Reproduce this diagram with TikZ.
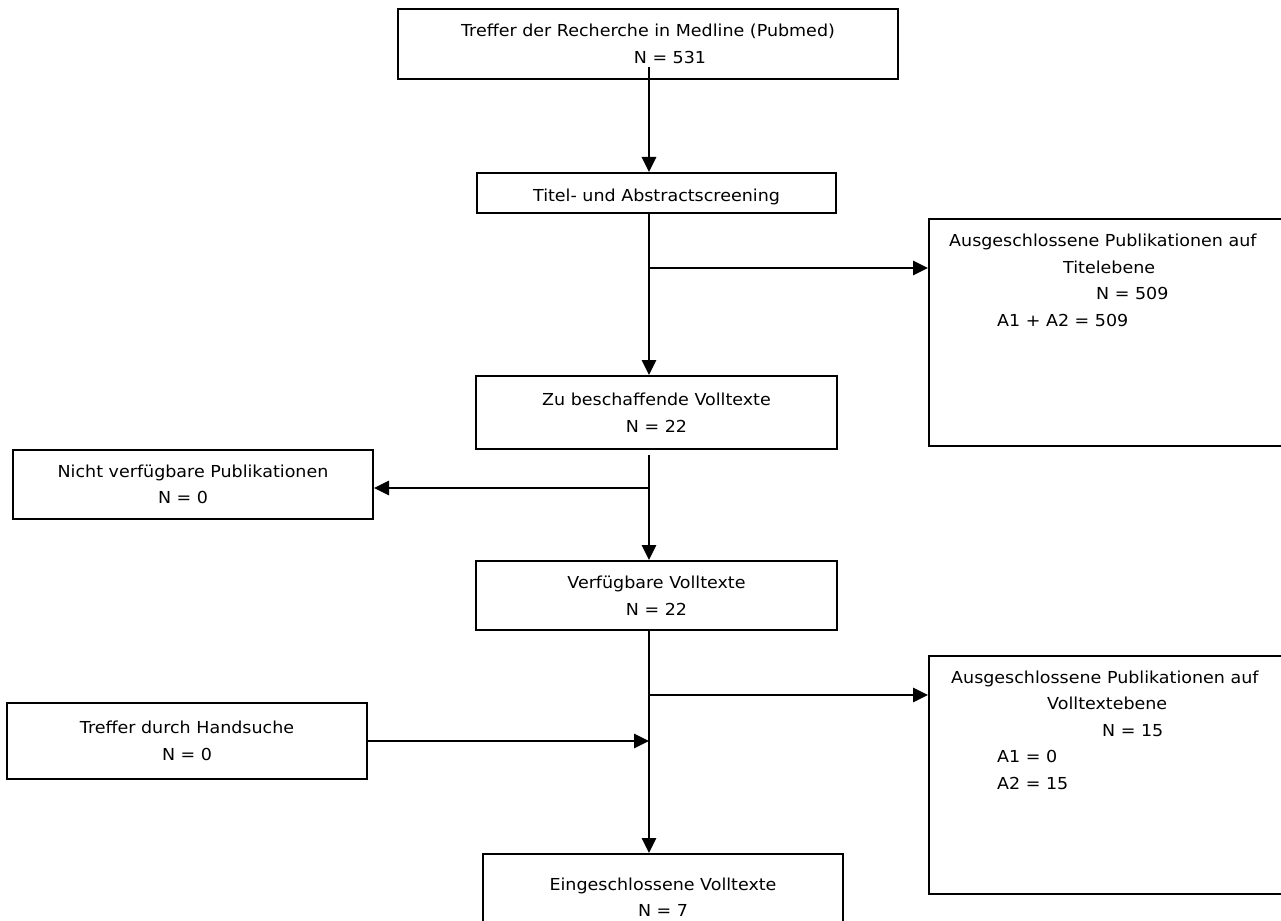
\documentclass[tikz,border=0pt]{standalone}
\usepackage{fontspec}
\setmainfont{DejaVu Sans}[FakeStretch=1.06]
\usepackage{tikz}
\usetikzlibrary{arrows.meta}

\begin{document}
\begin{tikzpicture}[y=-1pt,x=1pt,
  box/.style={draw,line width=2pt,rectangle,align=center,inner sep=0pt,
    font=\fontsize{16.5}{26.5}\selectfont},
  txt/.style={anchor=north west,align=left,inner sep=0pt,
    font=\fontsize{16.5}{26.5}\selectfont},
  conn/.style={line width=2.7pt,-{Triangle[length=15pt,width=14pt]}}]
  \useasboundingbox (0,0) rectangle (1281,920);
  \clip (0,0) rectangle (1281,920);
  % main column
  \node[box,minimum width=500pt,minimum height=70pt] (treffer) at (648,44)
    {Treffer der Recherche in Medline (Pubmed)\\\hspace*{44pt}N = 531};
  \node[box,minimum width=359pt,minimum height=40pt,text height=17pt,text depth=0pt] (titel) at (656.5,193)
    {Titel- und Abstractscreening};
  \node[box,minimum width=361pt,minimum height=73pt] (zu) at (656.5,412.5)
    {Zu beschaffende Volltexte\\N = 22};
  \node[box,minimum width=361pt,minimum height=69pt] (verf) at (656.5,595.5)
    {Verfügbare Volltexte\\N = 22};
  \node[box,minimum width=360pt,minimum height=86pt] (einge) at (663,897)
    {Eingeschlossene Volltexte\\N = 7};
  % side boxes
  \node[box,minimum width=360pt,minimum height=69pt] (nicht) at (193,484.5)
    {Nicht verfügbare Publikationen\\N = 0\hspace*{20pt}};
  \node[box,minimum width=360pt,minimum height=76pt] (hand) at (187,741)
    {Treffer durch Handsuche\\N = 0};
  \node[box,minimum width=354pt,minimum height=227pt] (aus1) at (1106,332.5) {};
  \node[txt] (aus1txt) at (949,234)
    {Ausgeschlossene Publikationen auf\\\hspace*{114pt}Titelebene\\
     \hspace*{147pt}N = 509\\\hspace*{48pt}A1 + A2 = 509};
  \node[box,minimum width=354pt,minimum height=238pt] (aus2) at (1106,775) {};
  \node[txt] (aus2txt) at (951,670.5)
    {Ausgeschlossene Publikationen auf\\\hspace*{96pt}Volltextebene\\
     \hspace*{151pt}N = 15\\\hspace*{46pt}A1 = 0\\\hspace*{46pt}A2 = 15};
  % connectors
  \coordinate (s0) at (649,67);
  \coordinate (b1) at (649,268);
  \coordinate (b2) at (649,488);
  \coordinate (b3) at (649,695);
  \draw[conn] (s0) -- (titel.north -| s0);
  \draw[conn] (titel.south -| s0) -- (zu.north -| s0);
  \draw[conn] (b1) -- (b1 -| aus1.west);
  \draw[conn] ([yshift=-5pt]zu.south -| s0) -- (verf.north -| s0);
  \draw[conn] (b2) -- (b2 -| nicht.east);
  \draw[conn] (verf.south -| s0) -- (einge.north -| s0);
  \draw[conn] (b3) -- (b3 -| aus2.west);
  \draw[conn] (hand.east) -- (hand.east -| s0);
\end{tikzpicture}
\end{document}
